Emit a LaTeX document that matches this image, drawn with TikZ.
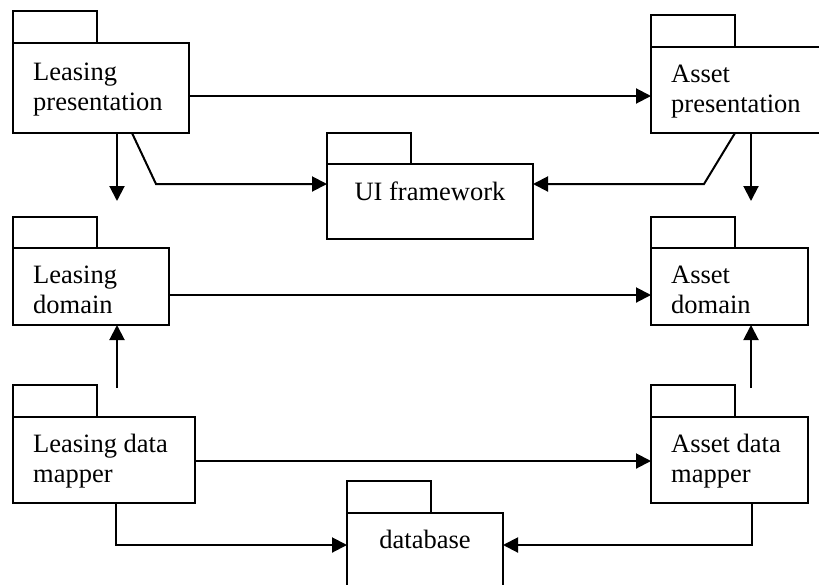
\documentclass[tikz,border=0pt]{standalone}
\usepackage{fontspec}
\setmainfont{Liberation Serif}
\usetikzlibrary{arrows.meta,calc}

\tikzset{
  pkgbody/.style={draw, line width=2pt, rectangle, outer sep=0pt, inner sep=0pt, anchor=north west},
  pkgtab/.style={draw, line width=2pt, rectangle, outer sep=0pt, inner sep=0pt,
                 minimum width=84pt, anchor=south west},
  % two-line labels: the base anchor sits on the last line
  pkgtext/.style={inner sep=0pt, anchor=base west, align=left,
                  font=\fontsize{26.5pt}{30pt}\selectfont},
  pkgcenter/.style={inner sep=0pt, anchor=base,
                  font=\fontsize{26.5pt}{30pt}\selectfont},
  dep/.style={line width=2pt, -{Triangle[length=15pt,width=15pt]}}
}

\begin{document}
\begin{tikzpicture}[x=1pt,y=-1pt]
\clip (0,0) rectangle (819,584);
\fill[white] (0,0) rectangle (819,584);

% presentation layer
\node[pkgbody, minimum width=176pt, minimum height=90pt] (lp) at (13,43) {};
\node[pkgtab, minimum height=32pt] (lptab) at (lp.north west) {};
\node[pkgtext] (lptext) at ($(lp.north west)+(20,67)$) {Leasing\\presentation};

\node[pkgbody, minimum width=190pt, minimum height=86pt] (ap) at (651,47) {};
\node[pkgtab, minimum height=32pt] (aptab) at (ap.north west) {};
\node[pkgtext] (aptext) at ($(ap.north west)+(20,65)$) {Asset\\presentation};

% UI framework
\node[pkgbody, minimum width=206pt, minimum height=75pt] (ui) at (327,164) {};
\node[pkgtab, minimum height=31pt] (uitab) at (ui.north west) {};
\node[pkgcenter] (uitext) at ($(ui.north)+(0,36)$) {UI framework};

% domain layer
\node[pkgbody, minimum width=156pt, minimum height=77pt] (ld) at (13,248) {};
\node[pkgtab, minimum height=31pt] (ldtab) at (ld.north west) {};
\node[pkgtext] (ldtext) at ($(ld.north west)+(20,65)$) {Leasing\\domain};

\node[pkgbody, minimum width=157pt, minimum height=77pt] (ad) at (651,248) {};
\node[pkgtab, minimum height=31pt] (adtab) at (ad.north west) {};
\node[pkgtext] (adtext) at ($(ad.north west)+(20,65)$) {Asset\\domain};

% data mapper layer
\node[pkgbody, minimum width=182pt, minimum height=86pt] (ldm) at (13,417) {};
\node[pkgtab, minimum height=32pt] (ldmtab) at (ldm.north west) {};
\node[pkgtext] (ldmtext) at ($(ldm.north west)+(20,65)$) {Leasing data\\mapper};

\node[pkgbody, minimum width=157pt, minimum height=86pt] (adm) at (651,417) {};
\node[pkgtab, minimum height=32pt] (admtab) at (adm.north west) {};
\node[pkgtext] (admtext) at ($(adm.north west)+(20,65)$) {Asset data\\mapper};

% database
\node[pkgbody, minimum width=156pt, minimum height=100pt] (db) at (347,513) {};
\node[pkgtab, minimum height=32pt] (dbtab) at (db.north west) {};
\node[pkgcenter] (dbtext) at ($(db.north)+(0,35)$) {database};

% free ends of the short vertical dependencies and the bends
\coordinate (lpdown) at (117,201);
\coordinate (apdown) at (751,201);
\coordinate (ldmup) at (117,388);
\coordinate (admup) at (751,388);
\coordinate (lpbend) at (156,184);
\coordinate (apbend) at (704,184);

% dependencies
\draw[dep] ([yshift=-53pt]lp.north east) -- ([yshift=-53pt]lp.north east -| ap.west);
\draw[dep] (lpdown |- lp.south) -- (lpdown);
\draw[dep] (apdown |- ap.south) -- (apdown);
\draw[dep] ([xshift=119pt]lp.south west) -- (lpbend) -- (lpbend -| ui.west);
\draw[dep] ([xshift=84pt]ap.south west) -- (apbend) -- (apbend -| ui.east);

\draw[dep] ([yshift=-47pt]ld.north east) -- ([yshift=-47pt]ld.north east -| ad.west);
\draw[dep] (ldmup) -- (ldmup |- ld.south);
\draw[dep] (admup) -- (admup |- ad.south);

\draw[dep] ([yshift=-44pt]ldm.north east) -- ([yshift=-44pt]ldm.north east -| adm.west);
\draw[dep] ([xshift=103pt]ldm.south west) |- ([yshift=-32pt]db.north west);
\draw[dep] ([xshift=101pt]adm.south west) |- ([yshift=-32pt]db.north east);
\end{tikzpicture}
\end{document}
